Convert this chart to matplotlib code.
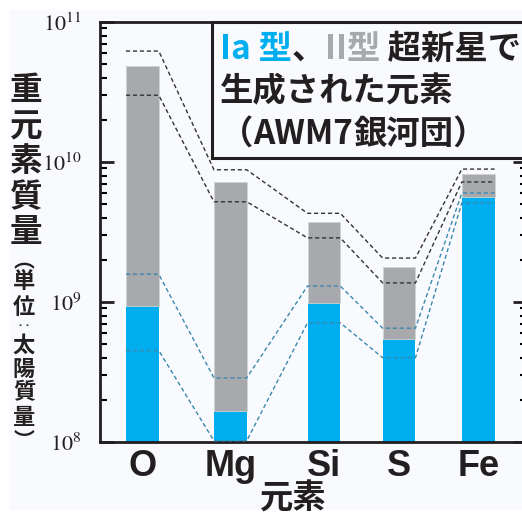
import numpy as np
import matplotlib
matplotlib.use('Agg')
import matplotlib.pyplot as plt
from matplotlib.patches import Rectangle
from matplotlib.ticker import FuncFormatter, LogLocator

plt.rcParams['font.family'] = ['Noto Sans CJK JP', 'DejaVu Sans']
plt.rcParams['mathtext.fontset'] = 'stix'

# element masses in solar masses
elements = ['O', 'Mg', 'Si', 'S', 'Fe']
mass_ia = np.array([9.4e8, 1.67e8, 9.8e8, 5.45e8, 5.6e9])
mass_total = np.array([4.85e10, 7.2e9, 3.73e9, 1.78e9, 8.2e9])
mass_ii = mass_total - mass_ia

# uncertainty bands (dashed)
total_upper = [6.2e10, 8.8e9, 4.3e9, 2.06e9, 8.9e9]
total_lower = [3.0e10, 5.2e9, 2.87e9, 1.37e9, 7.2e9]
ia_upper = [1.58e9, 2.87e8, 1.3e9, 6.5e8, 6.0e9]
ia_lower = [4.5e8, 1.02e8, 7.1e8, 4.0e8, 5.1e9]

BLUE = '#00aeef'
GRAY = '#a7a9ac'
INK = '#231f20'
BG = '#f9fafd'

W, H = 522, 514
fig = plt.figure(figsize=(W / 100, H / 100), dpi=100, facecolor='white')
fig.patches.append(Rectangle((10 / W, 4 / H), 1, 1 - 14 / H, transform=fig.transFigure,
                             facecolor=BG, edgecolor='none', zorder=-10))
ax = fig.add_axes([100 / W, 72 / H, 427 / W, 420 / H])
ax.set_facecolor(BG)

xpos = np.array([0.53, 1.63, 2.8, 3.74, 4.73])
bw = 0.41

ax.set_yscale('log')
ax.bar(xpos, mass_ia, bw, color=BLUE, zorder=2)
ax.bar(xpos, mass_ii, bw, bottom=mass_ia, color=GRAY, edgecolor='#cfd1d3',
       linewidth=0.6, zorder=2)


def band(vals, color):
    xs = np.column_stack([xpos - bw / 2, xpos + bw / 2]).ravel()
    ys = np.repeat(vals, 2)
    ax.plot(xs, ys, color=color, lw=1.0, dashes=(3, 2), zorder=3, clip_on=False)


band(total_upper, '#333333')
band(total_lower, '#333333')
band(ia_upper, '#3a88ad')
band(ia_lower, '#3a88ad')

ax.set_xlim(0, 5.34)
ax.set_ylim(1e8, 1e11)
ax.set_xticks(xpos)
ax.set_xticklabels(elements, fontsize=26, fontweight='bold', family='Liberation Sans')
ax.tick_params(axis='x', length=0, pad=5, colors=INK)

ax.yaxis.set_major_locator(LogLocator(base=10))
ax.yaxis.set_minor_locator(LogLocator(base=10, subs=np.arange(2, 10)))
ax.yaxis.set_major_formatter(FuncFormatter(
    lambda v, p: r'$\mathrm{10^{%d}}$' % round(np.log10(v))))
ax.yaxis.set_minor_formatter(FuncFormatter(lambda v, p: ''))
ax.tick_params(axis='y', which='major', direction='in', length=10, width=2,
               right=True, labelsize=16, pad=13, colors=INK)
ax.tick_params(axis='y', which='minor', direction='in', length=5, width=1.5,
               right=True)
for s in ax.spines.values():
    s.set_linewidth(2)
    s.set_color(INK)

# y-axis label, written vertically one character at a time
for i, ch in enumerate('重元素質量'):
    fig.text(26 / W, 1 - (91 + i * 35.5) / H, ch, fontsize=23.5, ha='center',
             va='center', color=INK, fontweight='bold')
small = ['︵', '単', '位', '‥', '太', '陽', '質', '量', '︶']
ys_small = [261, 282, 307, 326, 345, 369, 393, 417, 441]
sizes_small = [15, 16, 16, 10, 16, 16, 16, 16, 15]
for ch, y, fs in zip(small, ys_small, sizes_small):
    fig.text(24 / W, 1 - y / H, ch, fontsize=fs, ha='center', va='center',
             color=INK, fontweight='bold')

fig.text(293 / W, 1 - 499 / H, '元素', fontsize=24, ha='center', va='center',
         color=INK, fontweight='bold')

# title box
box = Rectangle((212 / W, 1 - 158 / H), 330 / W, 136 / H, transform=fig.transFigure,
                facecolor=BG, edgecolor=INK, linewidth=2.2, zorder=5)
fig.patches.append(box)

renderer = fig.canvas.get_renderer()


def put_runs(x, y, runs):
    for txt, color, weight in runs:
        t = fig.text(x / W, 1 - y / H, txt, fontsize=24, color=color,
                     fontweight=weight, va='baseline', ha='left', zorder=6)
        bb = t.get_window_extent(renderer=renderer)
        x += bb.width


put_runs(220, 59, [('Ia', BLUE, 'bold'), (' 型', BLUE, 'bold'),
                   ('、', INK, 'bold'), ('II', GRAY, 'bold'),
                   ('型', GRAY, 'bold'), (' 超新星で', INK, 'bold')])
put_runs(220, 101, [('生成された元素', INK, 'bold')])
put_runs(220, 144, [('（', INK, 'bold'), ('AWM7', INK, 'bold'),
                    ('銀河団）', INK, 'bold')])

fig.savefig('out.png', dpi=100, facecolor='white')
